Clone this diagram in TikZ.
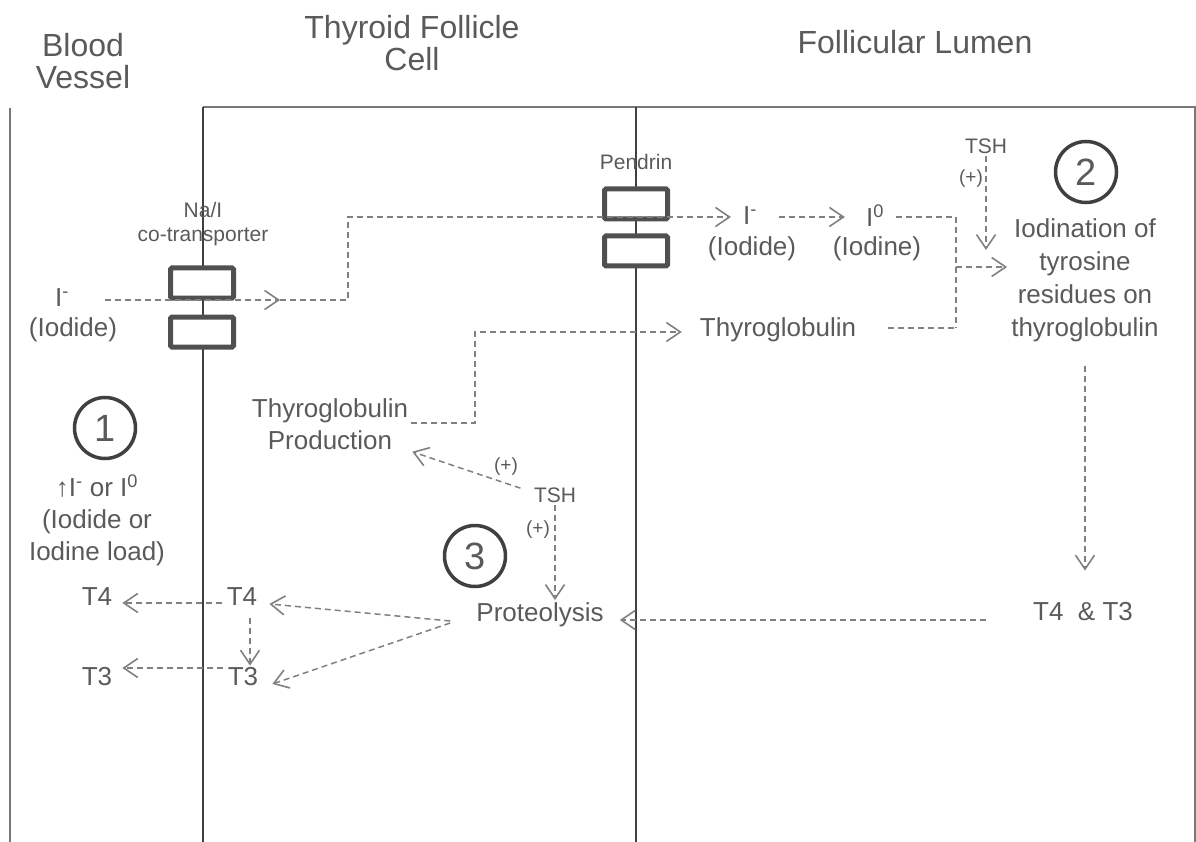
\documentclass[tikz,border=0pt]{standalone}
\usepackage{fontspec}
\setmainfont{Liberation Sans}
\usetikzlibrary{arrows.meta}
\definecolor{txt}{RGB}{90,90,90}
\definecolor{dash}{RGB}{128,128,128}
\definecolor{wall}{RGB}{120,120,120}
\definecolor{boxc}{RGB}{80,80,80}
\definecolor{circc}{RGB}{64,64,64}
\tikzset{
  lbl/.style={text=txt, font=\fontsize{26}{32}\selectfont, align=center, inner sep=2pt},
  hdr/.style={text=txt, font=\fontsize{32}{32}\selectfont, align=center, inner sep=2pt},
  sml/.style={text=txt, font=\fontsize{21}{24}\selectfont, align=center, inner sep=2pt},
  plus/.style={text=txt, font=\fontsize{19}{22}\selectfont, inner sep=1pt},
  wallline/.style={draw=wall, line width=2pt},
  membrane/.style={draw=black!75, line width=1.3pt},
  porter/.style={draw=boxc, line width=5pt, fill=white, rounded corners=1.5pt, minimum width=63pt, minimum height=30pt, inner sep=0pt},
  stepnum/.style={circle, draw=circc, line width=3.5pt, minimum size=61pt, inner sep=0pt, text=txt, font=\fontsize{38}{38}\selectfont},
  da/.style={draw=dash, line width=1.5pt, dash pattern=on 6pt off 4pt},
  dar/.style={da, -{Straight Barb[length=14pt, width=19pt, line width=1.6pt]}},
}
\begin{document}
\begin{tikzpicture}[x=1pt, y=-1pt]
\useasboundingbox (0,0) rectangle (1196,842);
% compartments
\draw[wallline] (10,108) -- (10,842);
\draw[wallline] (203,107) -- (1195,107) -- (1195,842);
\draw[membrane] (203,107) -- (203,842);
\draw[membrane] (636,107) -- (636,842);
% headers
\node[hdr] (hbv) at (83,61) {Blood\\Vessel};
\node[hdr] (htf) at (412,43) {Thyroid Follicle\\Cell};
\node[hdr] (hfl) at (915,42) {Follicular Lumen};
% transporters
\node[sml] (nislbl) at (203,224) {Na/I\\co-transporter};
\node[porter] (nis1) at (202,283) {};
\node[porter] (nis2) at (202,332) {};
\node[sml] (penlbl) at (636,162) {Pendrin};
\node[porter] (pen1) at (636,204) {};
\node[porter] (pen2) at (636,251) {};
% iodide in blood
\node[lbl] (iodb) at (62,298) {I\textsuperscript{-}};
\node[lbl] (iodbt) at (73,330) {(Iodide)};
\coordinate (nisarr) at (280,300);
% lumen iodide / iodine
\node[lbl] (iodm) at (750,216) {I\textsuperscript{-}};
\node[lbl] (iodmt) at (752,249) {(Iodide)};
\node[lbl] (iodn) at (875,216) {I\textsuperscript{0}};
\node[lbl] (iodnt) at (877,249) {(Iodine)};
% iodination
\node[sml] (tsht) at (986,146) {TSH};
\node[plus] (plt) at (971,179) {(+)};
\node[stepnum] (c2) at (1086,172) {2};
\node[lbl, font=\fontsize{26}{33}\selectfont] (iodz) at (1085,280) {Iodination of\\tyrosine\\residues on\\thyroglobulin};
\coordinate (jn) at (956,267);
% thyroglobulin
\node[lbl] (tgl) at (778,330) {Thyroglobulin};
\node[lbl] (tgp) at (330,424) {Thyroglobulin\\Production};
% TSH middle
\node[sml] (tshm) at (555,495) {TSH};
\node[plus] (plm1) at (506,467) {(+)};
\node[plus] (plm2) at (538,530) {(+)};
\node[stepnum] (c3) at (475,556) {3};
\node[lbl] (prot) at (540,615) {Proteolysis};
\node[lbl] (t43) at (1083,612) {T4\ \ \& T3};
% blood side
\node[stepnum] (c1) at (105,428) {1};
\node[lbl] (load) at (97,520) {↑I\textsuperscript{-} or I\textsuperscript{0}\\(Iodide or\\Iodine load)};
\node[lbl] (t4b) at (97,597) {T4};
\node[lbl] (t3b) at (97,677) {T3};
\node[lbl] (t4c) at (242,597) {T4};
\node[lbl] (t3c) at (243,677) {T3};
% connectors
\draw[dar, shorten <=34pt] (iodb.east |- nisarr) -- (nisarr);
\draw[dar, shorten >=10pt] (nisarr) -- (348,300) -- (348,217) -- (iodm.west |- 0,217);
\draw[dar, shorten <=20pt, shorten >=19pt] (iodm.east |- 0,217) -- (iodn.west |- 0,217);
\draw[da, shorten <=10pt] (iodn.east |- 0,217) -- (956,217) -- (956,328);
\draw[da, shorten <=30pt] (tgl.east |- 0,328) -- (956,328);
\draw[dar] (jn) -- ([xshift=-2pt]jn -| iodz.west);
\draw[dar] (tsht.south) -- (tsht.south |- 0,250);
\draw[dar, shorten <=22pt, shorten >=30pt] (iodz.south) -- (iodz.south |- t43.north);
\draw[dar, shorten <=1pt, shorten >=16pt] (tgp.east |- 0,423) -- (475,423) -- (475,332) -- (tgl.west |- 0,332);
\draw[dar, shorten <=12pt] (tshm.west |- 0,492) -- ([xshift=2pt]tgp.south east);
\draw[dar] (tshm.south) -- (tshm.south |- 0,600);
\draw[dar, shorten <=45pt, shorten >=14pt] (t43.west |- 0,620) -- (prot.east |- 0,620);
\draw[dar, shorten >=10pt] (prot.west |- 0,621) ++(-24,0) -- (t4c.east |- 0,603);
\draw[dar] (prot.west |- 0,623) ++(-24,0) -- ([xshift=12pt]t3c.east |- 0,684);
\draw[dar, shorten <=3pt, shorten >=8pt] (t4c.east |- 0,603) ++(-34,0) -- (t4b.east |- 0,603);
\draw[dar, shorten <=3pt, shorten >=8pt] (t3c.west |- 0,668) -- (t3b.east |- 0,668);
\draw[dar] (t4c.south -| 250,0) ++(0,10) -- (t3c.north -| 250,0);
\end{tikzpicture}
\end{document}
